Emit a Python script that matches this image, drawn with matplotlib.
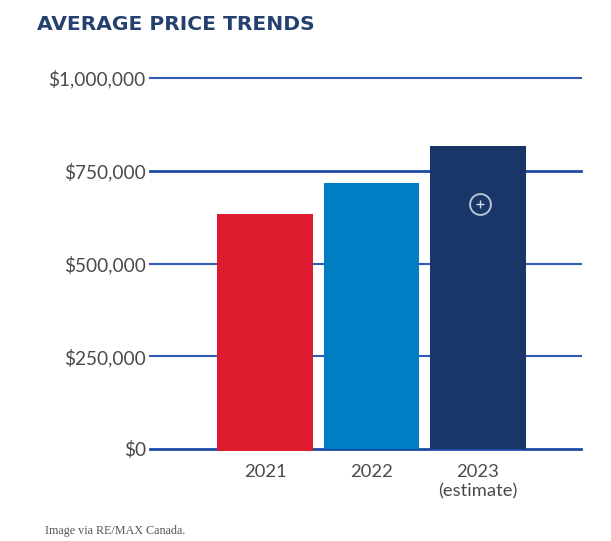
import matplotlib
matplotlib.use('Agg')
import matplotlib.pyplot as plt

years = ['2021', '2022', '2023\n(estimate)']
prices = [633000, 717000, 817000]
bar_colors = ['#dc1c2e', '#007dc3', '#1a3668']
ticks = [0, 250000, 500000, 750000, 1000000]
tick_labels = ['$0', '$250,000', '$500,000', '$750,000', '$1,000,000']

W, H = 611, 541
plt.rcParams['font.family'] = ['Lato', 'DejaVu Sans']

fig = plt.figure(figsize=(W / 100, H / 100), dpi=100, facecolor='white')
# axes box in pixels of the reference
ax = fig.add_axes([150 / W, 1 - 449 / H, (581 - 150) / W, (449 - 78) / H])
ax.set_xlim(-1.08, 2.967)
ax.set_ylim(0, 1000000)
ax.patch.set_alpha(0)
for s in ax.spines.values():
    s.set_visible(False)

for t in ticks:
    if t in (0, 750000):
        ax.axhline(t, color='#1c4aa6', lw=2.0, zorder=1, clip_on=False)
    else:
        ax.axhline(t, color='#2f5cb4', lw=1.5, zorder=1, clip_on=False)

# the bars start a little under the zero line
ax.bar(range(3), prices, width=0.895, color=bar_colors, zorder=2)
ax.bar(0, 6000, bottom=-6000, width=0.895, color=bar_colors[0], zorder=2, clip_on=False)

ax.set_yticks(ticks)
ax.set_yticklabels(tick_labels, fontsize=13.7, color='#4a4a4a')
ax.tick_params(axis='y', length=0, pad=3)
ax.set_xticks(range(3))
ax.set_xticklabels(years, fontsize=13.2, color='#4a4a4a', linespacing=1.25)
ax.tick_params(axis='x', length=0, pad=11)

# plus-in-circle marker on the last bar
ax.plot(2.02, 660000, 'o', ms=15, mfc='none', mec='#b9c3d6', mew=1.4, zorder=3, clip_on=False)
ax.plot(2.02, 660000, '+', ms=6, mec='#d5dbe6', mew=1, zorder=3)

fig.text(37 / W, 1 - 25 / H, 'AVERAGE PRICE TRENDS', fontsize=14.6, fontweight='bold',
         color='#24406f', va='center', ha='left', family=['DejaVu Sans'])
fig.text(45 / W, 1 - 531 / H, 'Image via RE/MAX Canada.', fontsize=8.7, color='#555555',
         family=['Liberation Serif'], va='center', ha='left')

fig.savefig('out.png', dpi=100)
